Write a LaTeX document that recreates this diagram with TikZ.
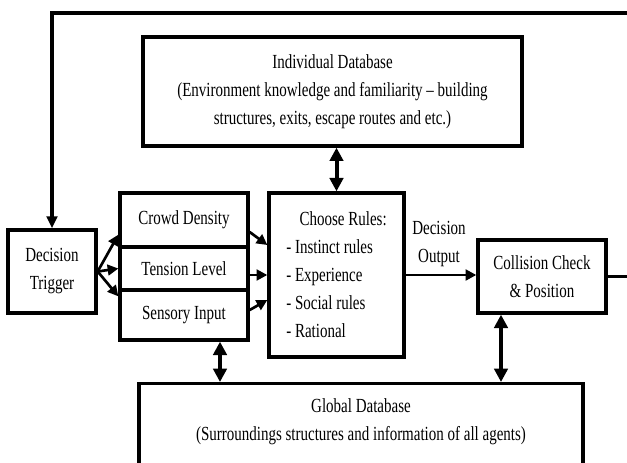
\documentclass[tikz,border=0pt]{standalone}
\usepackage{fontspec}
\setmainfont{Liberation Serif}[FakeStretch=0.75]
\usetikzlibrary{arrows.meta, positioning, calc}

\tikzset{
  txt/.style={align=center, inner sep=0pt, font=\fontsize{15}{21}\selectfont},
  box/.style={txt, draw, line width=2.5pt},
  boxsize/.style 2 args={minimum width=#1*0.75pt, minimum height=#2*0.75pt},
  flow/.style={line width=2pt, -{Triangle[length=8pt, width=8pt]}},
  dual/.style={line width=3pt, {Triangle[length=10pt, width=10pt]}-{Triangle[length=10pt, width=10pt]}},
}

\begin{document}
\begin{tikzpicture}[x=0.75pt, y=-0.75pt]
    \clip (0,0) rectangle (627,463);

    % boxes
    \node[box, boxsize={379}{109}] (idb) at (332.5,91.5)
        {Individual Database\\(Environment knowledge and familiarity -- building\\structures, exits, escape routes and etc.)};
    \node[box, boxsize={88}{83}] (trig) at (52,271.5) {Decision\\Trigger};
    \node[box, boxsize={128}{54}] (crowd) at (184,220) {Crowd Density};
    \node[box, boxsize={128}{43}] (tension) at (184,268.5) {Tension Level};
    \node[box, boxsize={128}{50}] (sens) at (184,315) {Sensory Input};
    \node[box, boxsize={135}{164}, align=left] (rules) at (336.5,275)
        {\hspace*{10pt}Choose Rules:\\- Instinct rules\\- Experience\\- Social rules\\- Rational};
    \node[box, boxsize={128}{73}] (coll) at (542,276.5) {Collision Check\\\& Position};
    \node[box, boxsize={444}{120}, anchor=north] (gdb) at (361,382) {};
    \node[txt] (gdbtxt) at (361,421.5)
        {Global Database\\(Surroundings structures and information of all agents)};
    \node[txt] (outlbl) at (439,244) {Decision\\Output};

    % fan out / fan in
    \draw[flow] (trig.east) -- ($(crowd.south west)+(0,-14)$);
    \draw[flow] (trig.east) -- (tension.west);
    \draw[flow] (trig.east) -- ($(sens.north west)+(0,8)$);
    \draw[flow] ($(crowd.east)+(0,12)$) -- ($(rules.west)+(0,-30)$);
    \draw[flow] (tension.east |- rules.west) -- (rules.west);
    \draw[flow] ($(sens.east)+(0,-5)$) -- ($(rules.west)+(0,25)$);
    \draw[flow] (rules.east) -- (coll.west |- rules.east);

    % databases
    \coordinate (sensfoot) at ($(sens.south)+(36,0)$);
    \coordinate (collfoot) at ($(coll.south)+(-41,0)$);
    \draw[dual] (rules.north) -- (rules.north |- idb.south);
    \draw[dual] (sensfoot) -- (sensfoot |- gdb.north);
    \draw[dual] (collfoot) -- (collfoot |- gdb.north);

    % feedback loop
    \coordinate (fbcorner) at (650,13);
    \draw[line width=2.3pt, -{Triangle[length=9pt, width=8pt]}] (coll.east) -| (fbcorner) -| (trig.north);
\end{tikzpicture}
\end{document}
